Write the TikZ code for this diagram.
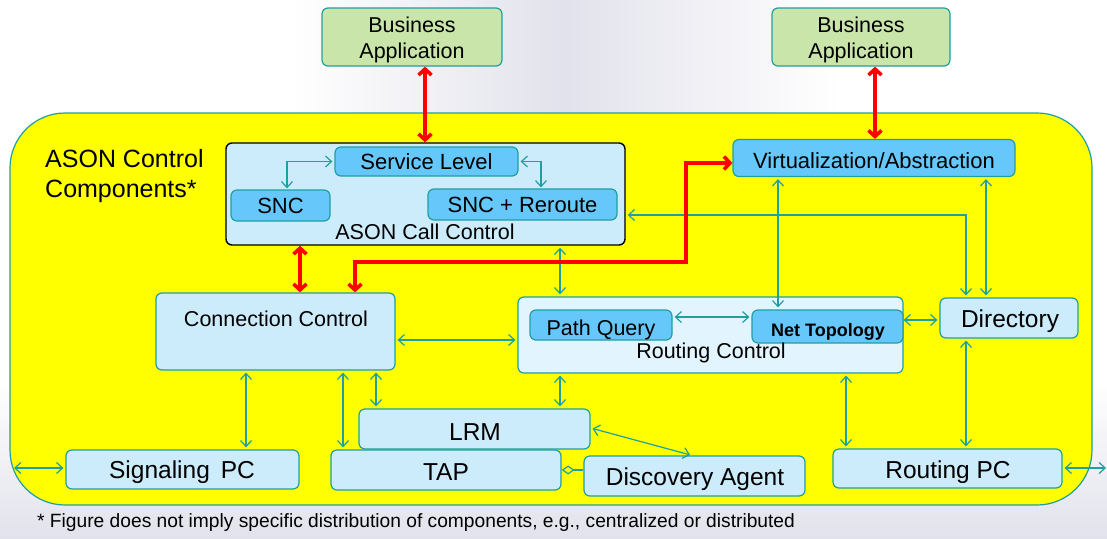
\documentclass[tikz,border=0pt]{standalone}
\usepackage{fontspec}
\setmainfont{Liberation Sans}
\usetikzlibrary{arrows.meta}
\definecolor{yel}{HTML}{FFFF00}
\definecolor{lblue}{HTML}{CCECFC}
\definecolor{llblue}{HTML}{E2F4FD}
\definecolor{sky}{HTML}{66C8FA}
\definecolor{tealc}{HTML}{1EA0A0}
\definecolor{bgreen}{HTML}{C9E5A9}
\definecolor{lav}{HTML}{E2E2EC}
\begin{document}
\begin{tikzpicture}[x=1pt,y=-1pt,
  box/.style={draw=tealc, line width=1.2pt, rounded corners=6pt, fill=lblue, inner sep=0pt,
    font=\fontsize{24}{28}\selectfont},
  skybox/.style={box, fill=sky, font=\fontsize{22}{25}\selectfont},
  greenbox/.style={box, fill=bgreen},
  lbl/.style={inner sep=0pt, font=\fontsize{21.5}{25}\selectfont},
  conn/.style={draw=tealc, line width=1.2pt, shorten <=2pt, shorten >=2pt,
    {Straight Barb[length=6pt,width=11pt]}-{Straight Barb[length=6pt,width=11pt]}},
  redarr/.style={draw=red, line width=3.6pt,
    {Straight Barb[length=6pt,width=13pt]}-{Straight Barb[length=6pt,width=13pt]}}]
% background
\path[fill=white] (0,0) rectangle (1107,538);
\path[left color=white, right color=white, middle color=lav] (290,0) rectangle (840,115);
\path[top color=white, bottom color=lav] (0,380) rectangle (1107,538);
% container
\node[draw=tealc, line width=1.2pt, fill=yel, rounded corners=55pt, minimum width=1082pt,
  minimum height=392pt, inner sep=0pt] (ason) at (551,309) {};
\node[inner sep=0pt, align=left, anchor=west, font=\fontsize{25}{30}\selectfont] (title) at (45,176)
  {ASON Control\\Components*};
% helper coordinates
\foreach \x in {246,287,300,343,355,376,425,541,560,686,692,778,846,875,966,986}
  {\coordinate (c\x) at (\x,0);}
\foreach \y in {163,215,262,317,320,340,428,468}
  {\coordinate (y\y) at (0,\y);}
\coordinate (edgeL) at (14,468);
\coordinate (edgeR) at (1106,468);
% top boxes
\node[greenbox, minimum width=180pt, minimum height=58pt] (baL) at (412,37) {};
\node[lbl, align=center, font=\fontsize{21.5}{26}\selectfont] (baLt) at (412,40) {Business\\Application};
\node[greenbox, minimum width=178pt, minimum height=58pt] (baR) at (861,37) {};
\node[lbl, align=center, font=\fontsize{21.5}{26}\selectfont] (baRt) at (861,40) {Business\\Application};
% ASON call control
\node[box, draw=black, line width=1.4pt, minimum width=399pt, minimum height=102pt] (acc) at (425.5,194) {};
\node[lbl] (acct) at (425,232) {ASON Call Control};
\node[skybox, minimum width=183pt, minimum height=29pt] (sl) at (426.5,161.5) {Service Level};
\node[skybox, minimum width=99pt, minimum height=31pt] (snc) at (280.5,205.5) {SNC};
\node[skybox, minimum width=189pt, minimum height=31pt] (sncr) at (522.5,204.5) {SNC + Reroute};
\node[skybox, minimum width=282pt, minimum height=37pt] (virt) at (874,158) {};
\node[lbl, font=\fontsize{22}{25}\selectfont] (virtt) at (874,161) {Virtualization/Abstraction};
% middle
\node[box, minimum width=239pt, minimum height=77pt] (cc) at (275.5,331.5) {};
\node[lbl] (cct) at (276,319) {Connection Control};
\node[box, fill=llblue, minimum width=385pt, minimum height=76pt] (rc) at (710.5,335) {};
\node[skybox, minimum width=142pt, minimum height=30pt] (pq) at (601,325) {};
\node[lbl] (pqt) at (601,330) {Path Query};
\node[skybox, minimum width=151pt, minimum height=33pt] (nt) at (827.5,326.5) {};
\node[lbl, font=\bfseries\fontsize{18}{22}\selectfont] (ntt) at (828,332) {Net Topology};
\node[lbl] (rct) at (711,353) {Routing Control};
\node[box, minimum width=138pt, minimum height=40pt] (dir) at (1009,318) {};
\node[lbl, font=\fontsize{24.5}{28}\selectfont] (dirt) at (1010,321) {Directory};
% bottom
\node[box, minimum width=231pt, minimum height=40pt] (lrm) at (474.5,429) {};
\node[lbl, font=\fontsize{24.5}{28}\selectfont] (lrmt) at (475,432) {LRM};
\node[box, minimum width=233pt, minimum height=39pt] (spc) at (182.5,469.5) {};
\node[lbl, font=\fontsize{24.5}{28}\selectfont] (spct) at (182,472) {Signaling\, PC};
\node[box, minimum width=230pt, minimum height=40pt] (tap) at (446,470) {};
\node[lbl, font=\fontsize{24.5}{28}\selectfont] (tapt) at (446,472) {TAP};
\node[box, minimum width=221pt, minimum height=40pt] (da) at (694.5,476) {};
\node[lbl, font=\fontsize{24.5}{28}\selectfont] (dat) at (695,479) {Discovery Agent};
\node[box, minimum width=229pt, minimum height=39pt] (rpc) at (947.5,468.5) {};
\node[lbl, font=\fontsize{24.5}{28}\selectfont] (rpct) at (948,472) {Routing PC};
% footnote
\node[inner sep=0pt, anchor=west, font=\fontsize{19.2}{22}\selectfont] (foot) at (37,523)
  {* Figure does not imply specific distribution of components, e.g., centralized or distributed};
% teal connectors
\draw[conn, shorten >=1pt] (sl.west) -| (snc.north -| c287);
\draw[conn, shorten >=1pt] (sl.east) -| (sncr.north -| c541);
\draw[conn] (acc.south -| c560) -- (rc.north -| c560);
\draw[conn] (acc.east |- y215) -| (dir.north -| c966);
\draw[conn] (virt.south -| c778) -- (nt.north -| c778);
\draw[conn] (virt.south -| c986) -- (dir.north -| c986);
\draw[conn] (pq.east |- y317) -- (nt.west |- y317);
\draw[conn, shorten <=0pt] (nt.east |- y320) -- (dir.west |- y320);
\draw[conn] (cc.east |- y340) -- (rc.west |- y340);
\draw[conn] (cc.south -| c246) -- (spc.north -| c246);
\draw[conn] (cc.south -| c343) -- (tap.north -| c343);
\draw[conn] (cc.south -| c376) -- (lrm.north -| c376);
\draw[conn] (rc.south -| c560) -- (lrm.north -| c560);
\draw[conn] (lrm.east |- y428) -- (da.north -| c692);
\draw[conn] (rc.south -| c846) -- (rpc.north -| c846);
\draw[conn] (dir.south -| c966) -- (rpc.north -| c966);
\draw[conn, shorten >=0pt] (rpc.east |- y468) -- (edgeR);
\draw[conn, shorten <=0pt] (edgeL) -- (spc.west |- y468);
\draw[draw=tealc, line width=1.2pt, {Diamond[open,length=13pt,width=9pt]}-] (tap.east) -- (da.west |- tap.east);
% red connectors
\draw[redarr] (baL.south -| c425) -- (acc.north -| c425);
\draw[redarr] (baR.south -| c875) -- (virt.north -| c875);
\draw[redarr] (acc.south -| c300) -- (cc.north -| c300);
\draw[redarr] (cc.north -| c355) -- (c355 |- y262) -- (c686 |- y262) -- (c686 |- y163) -- (virt.west |- y163);
\end{tikzpicture}
\end{document}
